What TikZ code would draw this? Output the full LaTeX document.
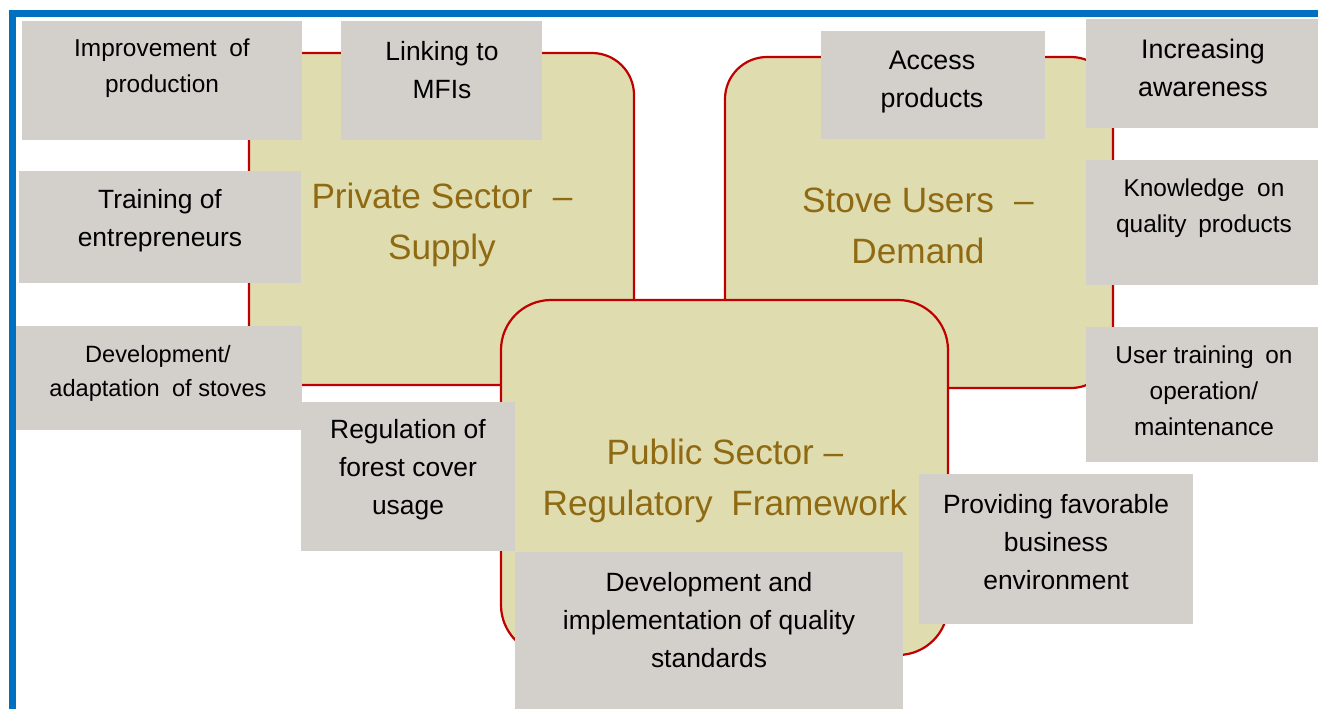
\documentclass[tikz,border=0pt]{standalone}
\usepackage{fontspec}
\setmainfont{Liberation Sans}
\definecolor{boxgray}{HTML}{D3CFCB}
\definecolor{areafill}{HTML}{DFDDB0}
\definecolor{arearule}{HTML}{C00000}
\definecolor{titlebrown}{HTML}{906A12}
\definecolor{frameblue}{HTML}{0070C0}
\begin{document}
\begin{tikzpicture}[x=0.5pt,y=-0.5pt,
  area/.style={fill=areafill,draw=arearule,line width=1.1pt},
  actbox/.style={fill=boxgray},
  acttext/.style={align=center,inner sep=0pt,text=black,font=\fontsize{13.2}{19}\selectfont},
  smalltext/.style={acttext,font=\fontsize{12.2}{18}\selectfont},
  titletext/.style={align=center,inner sep=0pt,text=titlebrown,font=\fontsize{17.6}{25.5}\selectfont}]
\useasboundingbox[fill=white] (0,0) rectangle (1318,709);

% three stakeholder areas
\draw[area,rounded corners=21pt] (249,53) rectangle (634,385);
\draw[area,rounded corners=21pt] (725,57) rectangle (1113,388);
\draw[area,rounded corners=25pt] (501,300) rectangle (948,655);

\node[titletext] (private) at (442,225) {Private Sector\hspace{0.3em} --\\Supply};
\node[titletext] (users) at (918,225.5) {Stove Users\hspace{0.3em} --\\Demand};
\node[titletext] (public) at (725,481) {Public Sector --\\Regulatory\hspace{0.25em} Framework};

% activity boxes
\fill[actbox] (22,21) rectangle (302,140);
\fill[actbox] (341,21) rectangle (542,140);
\fill[actbox] (19,171) rectangle (301,283);
\fill[actbox] (16,326) rectangle (302,430);
\fill[actbox] (301,402) rectangle (515,551);
\fill[actbox] (821,31) rectangle (1045,139);
\fill[actbox] (1086,19) rectangle (1318,128);
\fill[actbox] (1086,160) rectangle (1318,285);
\fill[actbox] (1086,327) rectangle (1318,462);
\fill[actbox] (919,474) rectangle (1193,624);
\fill[actbox] (515,552) rectangle (903,709);

\node[smalltext] (improve) at (162,68) {Improvement\hspace{0.25em} of\\production};
\node[acttext] (mfi) at (442,70) {Linking to\\MFIs};
\node[acttext] (training) at (160,221) {Training of\\entrepreneurs};
\node[acttext,font=\fontsize{11.8}{17}\selectfont] (stoves) at (158,373) {Development/\\adaptation\hspace{0.25em} of stoves};
\node[acttext] (forest) at (408,470) {Regulation of\\forest cover\\usage};
\node[acttext,font=\fontsize{13.4}{19}\selectfont] (access) at (932,82) {Access\\products};
\node[acttext,font=\fontsize{13.4}{19}\selectfont] (aware) at (1203,68) {Increasing\\awareness};
\node[smalltext] (knowledge) at (1204,208) {Knowledge\hspace{0.25em} on\\quality\hspace{0.2em} products};
\node[smalltext] (usertrain) at (1204,391) {User training\hspace{0.2em} on\\operation/\\maintenance};
\node[acttext] (business) at (1056,542) {Providing favorable\\business\\environment};
\node[acttext] (standards) at (709,620) {Development and\\implementation of quality\\standards};

% frame
\draw[frameblue,line width=3.5pt] (12,709) -- (12,13) -- (1318,13);
\end{tikzpicture}
\end{document}
